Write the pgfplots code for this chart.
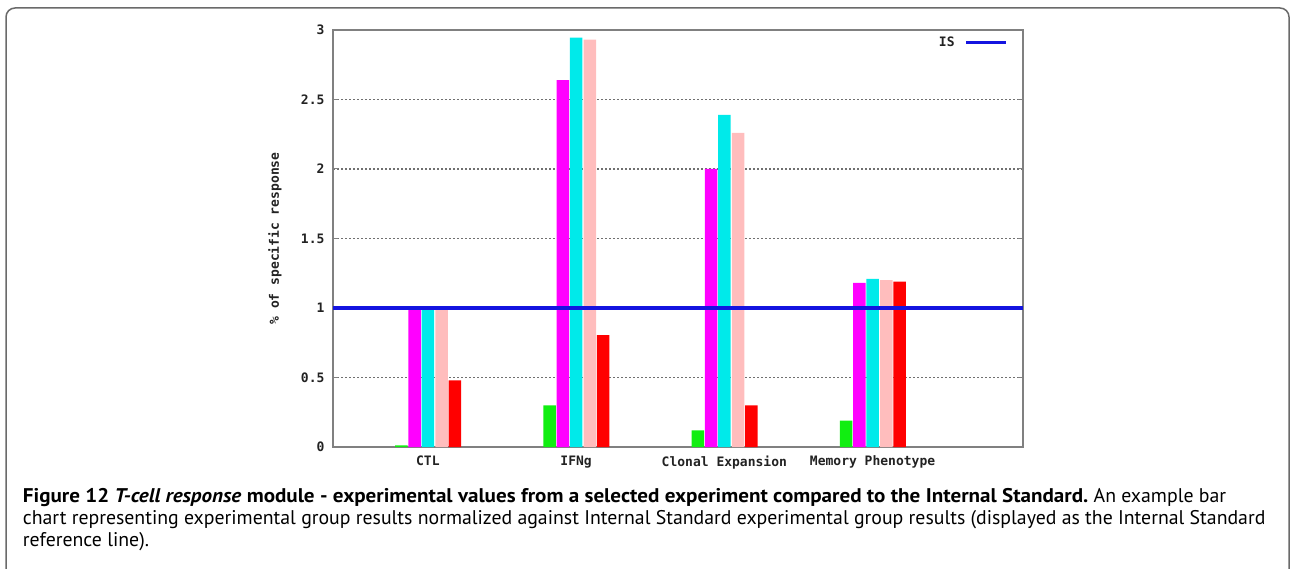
\documentclass[border=0pt]{standalone}
\usepackage{fontspec}
\setmainfont{PT Sans}
\setmonofont{DejaVu Sans Mono}
\usepackage{graphicx}
\usepackage{pgfplots}
\pgfplotsset{compat=1.18}
\definecolor{cgreen}{HTML}{11EE11}
\definecolor{cmag}{HTML}{FF00FF}
\definecolor{ccyan}{HTML}{00EAEA}
\definecolor{cpink}{HTML}{FFBDBD}
\definecolor{cred}{HTML}{FF0000}
\definecolor{isblue}{HTML}{1414E0}
\definecolor{framegray}{HTML}{6A6A6A}
\definecolor{axgray}{HTML}{808080}
\definecolor{gridgray}{HTML}{707070}
\definecolor{txt}{HTML}{222222}
\newcommand\tickfont{\ttfamily\bfseries\fontsize{13}{13}\selectfont}
\begin{document}
\begin{tikzpicture}[x=1pt,y=1pt]
\useasboundingbox (0,0) rectangle (1292,568);
\begin{scope}
\clip (0,0) rectangle (1292,568);
\draw[line width=1.5pt, color=framegray, rounded corners=9pt] (6,-30) rectangle (1289,560);
\end{scope}
\begin{axis}[
  at={(333pt,121pt)}, anchor=south west,
  scale only axis, width=690pt, height=417pt,
  xmin=0.36, xmax=5.015, ymin=0, ymax=3,
  xtick={1,2,3,4},
  xticklabels={CTL,IFNg,Clonal Expansion,Memory Phenotype},
  ytick={0,0.5,1,1.5,2,2.5,3},
  /pgf/number format/assume math mode=true,
  tick label style={font=\tickfont, text=txt},
  xticklabel style={yshift=-5pt},
  yticklabel style={xshift=-5pt},
  x tick style={draw=none},
  y tick style={axgray, line width=1pt},
  major tick length=5pt,
  axis line style={axgray, line width=1.5pt},
  ymajorgrids,
  grid style={gridgray, line width=1.5pt, dash pattern=on 1.5pt off 2.5pt},
  ylabel={\% of specific response},
  ylabel style={font=\tickfont, text=txt, at={(axis description cs:-0.084,0.5)}, anchor=center},
  legend plot pos=right,
  legend style={draw=none, fill=none, at={(axis description cs:0.978,0.971)}, anchor=east, inner sep=0pt, font=\tickfont, text=txt, column sep=8pt},
  legend image code/.code={\draw[#1] (0pt,0pt) -- (40pt,0pt);},
]
\addplot[ybar, bar width=12.5pt, bar shift=-26.5pt, fill=cgreen, draw=none, forget plot] coordinates {(1,0.012) (2,0.30) (3,0.12) (4,0.19)};
\addplot[ybar, bar width=12.5pt, bar shift=-13.3pt, fill=cmag, draw=none, forget plot] coordinates {(1,1.0) (2,2.64) (3,2.0) (4,1.18)};
\addplot[ybar, bar width=12.5pt, bar shift=0pt, fill=ccyan, draw=none, forget plot] coordinates {(1,1.0) (2,2.945) (3,2.39) (4,1.21)};
\addplot[ybar, bar width=12.5pt, bar shift=13.7pt, fill=cpink, draw=none, forget plot] coordinates {(1,1.0) (2,2.93) (3,2.26) (4,1.20)};
\addplot[ybar, bar width=12.5pt, bar shift=27pt, fill=cred, draw=none, forget plot] coordinates {(1,0.48) (2,0.805) (3,0.30) (4,1.19)};
\addplot[isblue, line width=3pt, mark=none] coordinates {(0.36,1) (5.015,1)};
\addlegendentry{IS}
\end{axis}
\begin{scope}[every node/.style={anchor=base west, inner sep=0pt, text=black, font=\fontsize{19.8}{22}\selectfont}]
\node at (22.7,66) {\scalebox{1.065}[1]{\textbf{Figure 12 \textit{T-cell response} module - experimental values from a selected experiment compared to the Internal Standard.}} An example bar};
\node at (22.7,44) {chart representing experimental group results normalized against Internal Standard experimental group results (displayed as the Internal Standard};
\node at (22.7,22) {reference line).};
\end{scope}
\end{tikzpicture}
\end{document}
